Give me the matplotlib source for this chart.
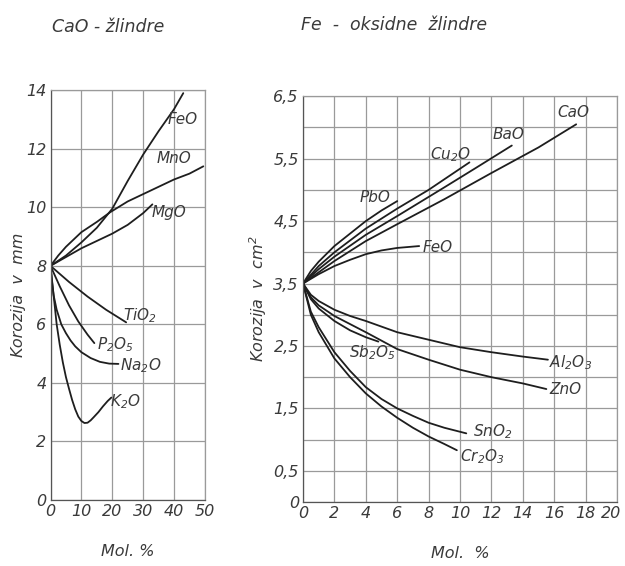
import matplotlib
matplotlib.use('Agg')
import matplotlib.pyplot as plt
from matplotlib.transforms import ScaledTranslation

# Korozija v odvisnosti od dodatka oksidov (odcitano s slike)
plt.rcParams['font.family'] = 'DejaVu Sans'
plt.rcParams['font.style'] = 'italic'
plt.rcParams['mathtext.fontset'] = 'dejavusans'
plt.rcParams['mathtext.default'] = 'it'

# --- CaO - zlindre (korozija v mm) ---
feo_x = [0, 5, 10, 15, 20, 25, 30, 35, 40, 43]
feo_y = [8, 8.35, 8.8, 9.3, 9.95, 10.9, 11.8, 12.6, 13.35, 13.9]
mno_x = [0, 2.5, 5, 10, 15, 19.3, 25, 30, 35, 40, 45, 49.5]
mno_y = [8, 8.35, 8.65, 9.15, 9.5, 9.83, 10.2, 10.45, 10.7, 10.95, 11.15, 11.4]
mgo_x = [0, 5, 10, 15, 20, 25, 30, 33]
mgo_y = [8, 8.3, 8.6, 8.85, 9.1, 9.4, 9.8, 10.1]
tio2_x = [0, 6, 12, 18, 24.5]
tio2_y = [8, 7.45, 6.95, 6.5, 6.07]
p2o5_x = [0, 3, 6, 9, 12, 14.2]
p2o5_y = [8, 7.3, 6.65, 6.1, 5.65, 5.36]
na2o_x = [0, 0.5, 1, 2, 3.5, 5, 6.5, 8, 10, 13, 16, 19, 22]
na2o_y = [8, 7.45, 7.0, 6.5, 6.0, 5.7, 5.45, 5.25, 5.05, 4.85, 4.72, 4.66, 4.65]
k2o_x = [0, 0.5, 1, 2, 3, 4, 5, 6, 7, 8, 9, 10, 11, 12, 13, 14, 15.5, 17, 18.5, 19.7]
k2o_y = [8, 7.5, 7.0, 6.0, 5.3, 4.7, 4.2, 3.8, 3.42, 3.1, 2.85, 2.7, 2.63, 2.64, 2.72,
         2.83, 3.0, 3.2, 3.38, 3.5]

left_names = ['FeO', 'MnO', 'MgO', r'TiO$_2$', r'P$_2$O$_5$', r'Na$_2$O', r'K$_2$O']
left_x = [feo_x, mno_x, mgo_x, tio2_x, p2o5_x, na2o_x, k2o_x]
left_y = [feo_y, mno_y, mgo_y, tio2_y, p2o5_y, na2o_y, k2o_y]
left_lbl = [(38, 13.0), (34.5, 11.67), (32.8, 9.83), (23.5, 6.3),
            (15, 5.3), (22.5, 4.6), (19.3, 3.35)]

# --- Fe - oksidne zlindre (korozija v cm2) ---
cao_x = [0, 1, 2, 4, 6, 9, 12, 15, 17.4]
cao_y = [3.5, 3.68, 3.86, 4.18, 4.45, 4.85, 5.27, 5.68, 6.05]
bao_x = [0, 1, 2, 4, 6, 9, 11, 13.3]
bao_y = [3.5, 3.73, 3.93, 4.28, 4.58, 5.04, 5.35, 5.71]
cu2o_x = [0, 1, 2, 4, 6, 8, 10.6]
cu2o_y = [3.5, 3.78, 4.0, 4.38, 4.7, 5.0, 5.44]
pbo_x = [0, 0.5, 1, 2, 3, 4, 5, 6]
pbo_y = [3.5, 3.7, 3.85, 4.1, 4.3, 4.5, 4.67, 4.82]
feo2_x = [0, 1, 2, 3, 4, 5, 6, 7.4]
feo2_y = [3.5, 3.65, 3.78, 3.88, 3.97, 4.03, 4.07, 4.1]
al2o3_x = [0, 0.5, 1, 2, 3, 4, 6, 8, 10, 12, 14, 15.6]
al2o3_y = [3.5, 3.32, 3.22, 3.08, 2.98, 2.9, 2.72, 2.6, 2.48, 2.4, 2.33, 2.28]
zno_x = [0, 0.5, 1, 2, 3, 4, 6, 8, 10, 12, 14, 15.5]
zno_y = [3.5, 3.28, 3.15, 2.98, 2.85, 2.72, 2.45, 2.28, 2.12, 2.0, 1.9, 1.81]
sb2o5_x = [0, 0.5, 1, 2, 3, 4, 4.8]
sb2o5_y = [3.5, 3.25, 3.1, 2.9, 2.75, 2.64, 2.57]
sno2_x = [0, 0.5, 1, 2, 3, 4, 5, 6, 7, 8, 9, 10.4]
sno2_y = [3.5, 3.05, 2.8, 2.4, 2.1, 1.84, 1.65, 1.5, 1.38, 1.27, 1.19, 1.1]
cr2o3_x = [0, 0.5, 1, 2, 3, 4, 5, 6, 7, 8, 9, 9.8]
cr2o3_y = [3.5, 3.0, 2.72, 2.3, 2.0, 1.74, 1.53, 1.35, 1.19, 1.05, 0.93, 0.83]

right_names = ['CaO', 'BaO', r'Cu$_2$O', 'PbO', 'FeO', r'Al$_2$O$_3$', 'ZnO',
               r'Sb$_2$O$_5$', r'SnO$_2$', r'Cr$_2$O$_3$']
right_x = [cao_x, bao_x, cu2o_x, pbo_x, feo2_x, al2o3_x, zno_x, sb2o5_x, sno2_x, cr2o3_x]
right_y = [cao_y, bao_y, cu2o_y, pbo_y, feo2_y, al2o3_y, zno_y, sb2o5_y, sno2_y, cr2o3_y]
right_lbl = [(16.2, 6.24), (12.1, 5.89), (8.1, 5.57), (3.6, 4.88), (7.6, 4.08),
             (15.7, 2.23), (15.7, 1.8), (2.9, 2.39), (10.8, 1.12), (10.0, 0.72)]

left_xticks = [0, 10, 20, 30, 40, 50]
left_yticks = [0, 2, 4, 6, 8, 10, 12, 14]
right_xticks = [0, 2, 4, 6, 8, 10, 12, 14, 16, 18, 20]
right_yticks = [0, 0.5, 1, 1.5, 2, 2.5, 3, 3.5, 4, 4.5, 5, 5.5, 6, 6.5]
right_ylabels = ['0', '0,5', '', '1,5', '', '2,5', '', '3,5', '', '4,5', '', '5,5', '', '6,5']

txt = '#3a3a3a'
grid_c = '#9a9a9a'

fig = plt.figure(figsize=(6.25, 5.66), dpi=100)
ax1 = fig.add_axes([0.0808, 0.1166, 0.247, 0.724])
ax2 = fig.add_axes([0.4848, 0.113, 0.5024, 0.717])

for ax in (ax1, ax2):
    ax.grid(True, color=grid_c, linewidth=0.9)
    ax.set_axisbelow(True)
    for s in ax.spines.values():
        s.set_color(grid_c)
        s.set_linewidth(0.9)
    ax.spines['left'].set_color('#555555')
    ax.spines['bottom'].set_color('#555555')
    ax.tick_params(length=0, labelsize=11.5, labelcolor=txt, pad=3)

# levi graf
for xs, ys in zip(left_x, left_y):
    ax1.plot(xs, ys, color='#1e1e1e', linewidth=1.3, solid_capstyle='round',
             solid_joinstyle='round')
for name, (lx, ly) in zip(left_names, left_lbl):
    ax1.text(lx, ly, name, fontsize=11, color=txt, va='center', ha='left')
ax1.set_xlim(0, 50)
ax1.set_ylim(0, 14)
ax1.set_xticks(left_xticks)
ax1.set_yticks(left_yticks)
ax1.set_ylabel('Korozija  v  mm', fontsize=11.5, color=txt, labelpad=0)
ax1.set_xlabel('Mol. %', fontsize=11.5, color=txt, labelpad=18)

# desni graf
for xs, ys in zip(right_x, right_y):
    ax2.plot(xs, ys, color='#1e1e1e', linewidth=1.3, solid_capstyle='round',
             solid_joinstyle='round')
for name, (lx, ly) in zip(right_names, right_lbl):
    ax2.text(lx, ly, name, fontsize=11, color=txt, va='center', ha='left')
ax2.set_xlim(0, 20)
ax2.set_ylim(0, 6.5)
ax2.set_xticks(right_xticks)
ax2.set_yticks(right_yticks)
ax2.set_yticklabels(right_ylabels)
ax2.set_ylabel('Korozija  v  cm$^2$', fontsize=11.5, color=txt, labelpad=3)
ax2.set_xlabel('Mol.  %', fontsize=11.5, color=txt, labelpad=18)

# zadnja oznaka (20) malo v levo, da ostane na sliki
last = ax2.get_xticklabels()[-1]
last.set_transform(last.get_transform() + ScaledTranslation(-6 / 100, 0, fig.dpi_scale_trans))

fig.text(108 / 625, 1 - 27 / 566, 'CaO - žlindre', fontsize=12.5, color=txt,
         ha='center', va='center')
fig.text(394 / 625, 1 - 25 / 566, 'Fe  -  oksidne  žlindre', fontsize=12.5, color=txt,
         ha='center', va='center')

fig.savefig('out.png', dpi=100)
